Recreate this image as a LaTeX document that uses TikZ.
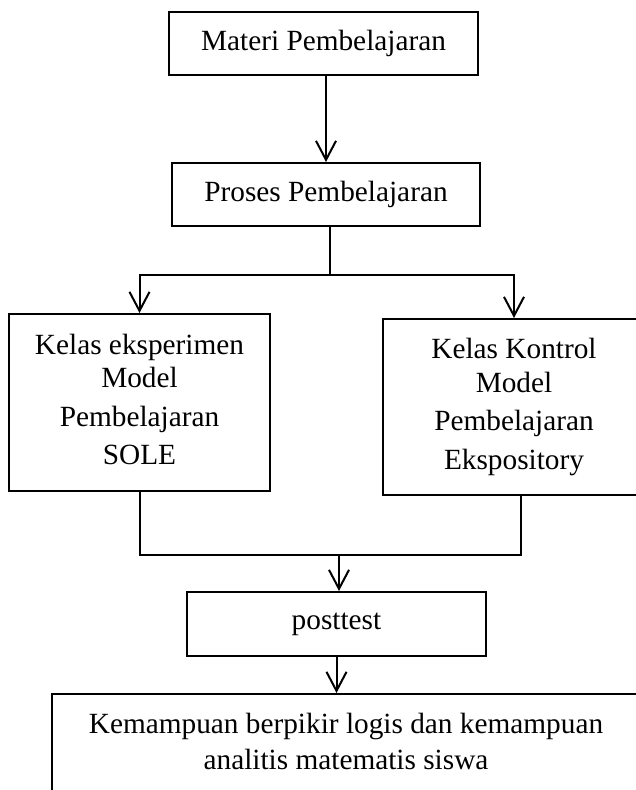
\documentclass[tikz,border=0pt]{standalone}
\usepackage{fontspec}
\setmainfont{Liberation Serif}
\usetikzlibrary{arrows.meta}
\begin{document}
\begin{tikzpicture}[x=1pt,y=-1pt,
  box/.style={draw,line width=2pt,rectangle,inner sep=0pt,align=center,
    font=\fontsize{29.3}{38.5}\selectfont},
  link/.style={line width=2pt},
  arr/.style={line width=2pt,-{Straight Barb[length=19pt,width=20pt,line width=2pt]}}]
\useasboundingbox (0,0) rectangle (636,790);
\clip (0,0) rectangle (636,790);
\node[box,minimum width=309pt,minimum height=63pt] (materi) at (323.5,43.5) {Materi Pembelajaran};
\node[box,minimum width=308pt,minimum height=63pt] (proses) at (326,194.5) {Proses Pembelajaran};
\node[box,minimum width=261pt,minimum height=177pt] (eks) at (139.5,402.5)
  {Kelas eksperimen\\[-5pt]Model\\Pembelajaran\\SOLE\vphantom{y}};
\node[box,minimum width=262pt,minimum height=176pt] (kon) at (514,407)
  {Kelas Kontrol\\[-5pt]Model\\Pembelajaran\\Ekspository};
\node[box,minimum width=299pt,minimum height=64pt] (post) at (336.5,624) {posttest};
\node[box,anchor=north,minimum width=588pt,inner ysep=19pt,
  font=\fontsize{29.3}{36}\selectfont] (hasil) at (346,693)
  {Kemampuan berpikir logis dan kemampuan\\analitis matematis siswa\rule[-70pt]{0pt}{70pt}};
\coordinate (split) at (330,275);
\coordinate (join) at (339,555);
\coordinate (rj) at (521,555);
\draw[arr] (materi.south -| proses.north) -- (proses.north);
\draw[link] (proses.south -| split) -- (split);
\draw[arr] (split) -| (eks.north);
\draw[arr] (split) -| (kon.north);
\draw[link] (eks.south) |- (rj) -- (rj |- kon.south);
\draw[arr] (join) -- (join |- post.north);
\draw[arr] (post.south) -- (post.south |- hasil.north);
\end{tikzpicture}
\end{document}
